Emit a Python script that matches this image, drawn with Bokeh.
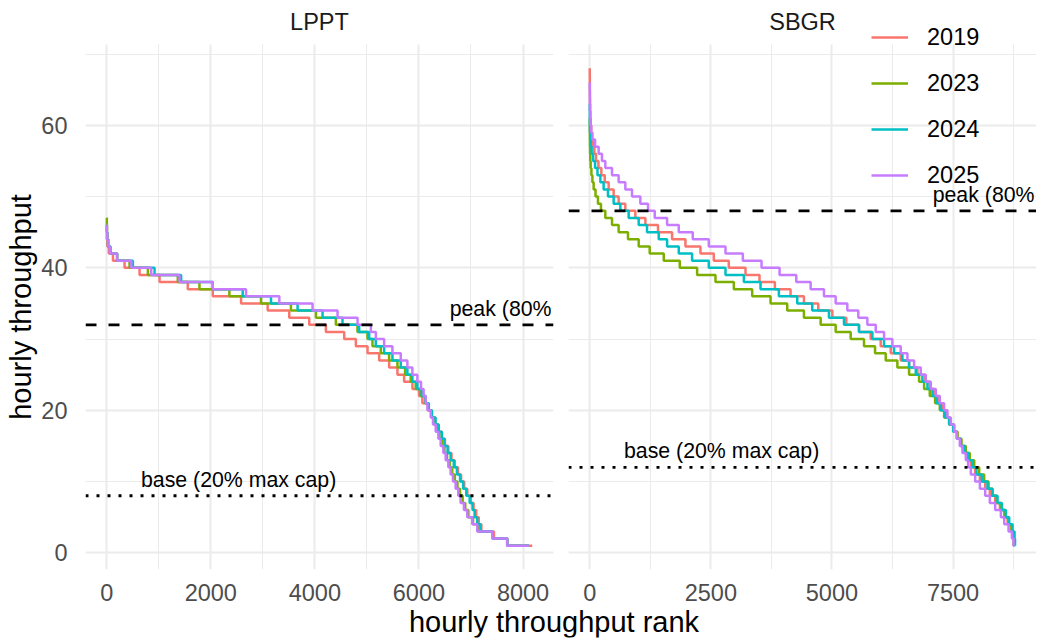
import math
from bokeh.plotting import figure
from bokeh.models import Range1d, FixedTicker, Span, Legend, LegendItem, Label, BoxAnnotation
from bokeh.layouts import row, column
from bokeh.embed import file_html
from bokeh.resources import INLINE
from bokeh.core.properties import value

# ---------------- data (level, last rank at that level) ----------------
YEARS = ["2019", "2023", "2024", "2025"]
COLORS = ["#F8766D", "#7CAE00", "#00BFC4", "#C77CFF"]

LPPT_2019 = [(45, 3), (44, 12), (43, 40), (42, 120), (41, 343), (40, 631), (39, 1015), (38, 1558),
             (37, 2038), (36, 2582), (35, 3093), (34, 3508), (33, 3892), (32, 4212), (31, 4564),
             (30, 4788), (29, 5012), (28, 5236), (27, 5427), (26, 5587), (25, 5715), (24, 5875),
             (23, 6002), (22, 6066), (21, 6170), (20, 6240), (19, 6310), (18, 6380), (17, 6440),
             (16, 6500), (15, 6565), (14, 6625), (13, 6690), (12, 6750), (11, 6810), (10, 6870),
             (9, 6930), (8, 6995), (7, 7050), (6, 7100), (5, 7150), (4, 7200), (3, 7441),
             (2, 7697), (1, 8177)]
LPPT_2023 = [(47, 2), (46, 5), (45, 12), (44, 30), (43, 70), (42, 200), (41, 439), (40, 791),
             (39, 1366), (38, 1782), (37, 2357), (36, 2965), (35, 3540), (34, 4020), (33, 4403),
             (32, 4819), (31, 5011), (30, 5107), (29, 5267), (28, 5427), (27, 5587), (26, 5734),
             (25, 5842), (24, 5938), (23, 6034), (22, 6117), (21, 6185), (20, 6240), (19, 6290),
             (18, 6340), (17, 6390), (16, 6440), (15, 6490), (14, 6540), (13, 6590), (12, 6640),
             (11, 6690), (10, 6740), (9, 6790), (8, 6840), (7, 6890), (6, 6950), (5, 7040),
             (4, 7130), (3, 7409), (2, 7696), (1, 8112)]
LPPT_2024 = [(46, 2), (45, 8), (44, 25), (43, 70), (42, 200), (41, 503), (40, 919), (39, 1430),
             (38, 2038), (37, 2613), (36, 3157), (35, 3668), (34, 4148), (33, 4531), (32, 4851),
             (31, 5043), (30, 5171), (29, 5331), (28, 5491), (27, 5651), (26, 5778), (25, 5874),
             (24, 5970), (23, 6053), (22, 6130), (21, 6190), (20, 6250), (19, 6320), (18, 6380),
             (17, 6440), (16, 6490), (15, 6550), (14, 6610), (13, 6670), (12, 6730), (11, 6790),
             (10, 6850), (9, 6910), (8, 6975), (7, 7030), (6, 7070), (5, 7120), (4, 7180),
             (3, 7409), (2, 7696), (1, 8112)]
LPPT_2025 = [(46, 3), (45, 10), (44, 30), (43, 60), (42, 200), (41, 472), (40, 855), (39, 1398),
             (38, 2038), (37, 2678), (36, 3317), (35, 3956), (34, 4436), (33, 4820), (32, 5076),
             (31, 5172), (30, 5331), (29, 5490), (28, 5651), (27, 5778), (26, 5874), (25, 5970),
             (24, 6040), (23, 6090), (22, 6130), (21, 6165), (20, 6226), (19, 6270), (18, 6322),
             (17, 6373), (16, 6418), (15, 6469), (14, 6514), (13, 6565), (12, 6609), (11, 6654),
             (10, 6705), (9, 6756), (8, 6801), (7, 6865), (6, 6929), (5, 7025), (4, 7121),
             (3, 7409), (2, 7696), (1, 8112)]

SBGR_2019 = [(68, 1), (67, 2), (66, 3), (65, 4), (64, 6), (63, 9), (62, 14), (61, 20), (60, 30),
             (59, 45), (58, 65), (57, 95), (56, 130), (55, 180), (54, 240), (53, 310), (52, 391),
             (51, 494), (50, 597), (49, 735), (48, 942), (47, 1149), (46, 1410), (45, 1700),
             (44, 1976), (43, 2286), (42, 2561), (41, 2871), (40, 3216), (39, 3505), (38, 3822),
             (37, 4146), (36, 4422), (35, 4718), (34, 5008), (33, 5297), (32, 5559), (31, 5800),
             (30, 6007), (29, 6214), (28, 6420), (27, 6593), (26, 6765), (25, 6923), (24, 7020),
             (23, 7110), (22, 7199), (21, 7282), (20, 7364), (19, 7440), (18, 7523), (17, 7592),
             (16, 7661), (15, 7730), (14, 7799), (13, 7868), (12, 7957), (11, 8054), (10, 8164),
             (9, 8260), (8, 8371), (7, 8467), (6, 8557), (5, 8626), (4, 8694), (3, 8743),
             (2, 8755), (1, 8760)]
SBGR_2023 = [(61, 1), (60, 2), (59, 3), (58, 4), (57, 7), (56, 12), (55, 19), (54, 35), (53, 55),
             (52, 81), (51, 120), (50, 170), (49, 232), (48, 322), (47, 460), (46, 597), (45, 790),
             (44, 1011), (43, 1238), (42, 1528), (41, 1858), (40, 2217), (39, 2596), (38, 2975),
             (37, 3354), (36, 3733), (35, 4077), (34, 4422), (33, 4767), (32, 5077), (31, 5387),
             (30, 5662), (29, 5890), (28, 6110), (27, 6351), (26, 6593), (25, 6799), (24, 6903),
             (23, 7020), (22, 7130), (21, 7227), (20, 7316), (19, 7420), (18, 7509), (17, 7592),
             (16, 7675), (15, 7764), (14, 7847), (13, 7937), (12, 8040), (11, 8143), (10, 8233),
             (9, 8315), (8, 8398), (7, 8488), (6, 8570), (5, 8646), (4, 8708), (3, 8743),
             (2, 8755), (1, 8760)]
SBGR_2024 = [(63, 1), (62, 2), (61, 3), (60, 6), (59, 12), (58, 22), (57, 40), (56, 70), (55, 110),
             (54, 160), (53, 220), (52, 287), (51, 377), (50, 494), (49, 632), (48, 804),
             (47, 1011), (46, 1183), (45, 1424), (44, 1597), (43, 1838), (42, 2113), (41, 2458),
             (40, 2803), (39, 3182), (38, 3526), (37, 3905), (36, 4284), (35, 4594), (34, 4939),
             (33, 5249), (32, 5559), (31, 5835), (30, 6076), (29, 6283), (28, 6455), (27, 6593),
             (26, 6731), (25, 6868), (24, 6972), (23, 7075), (22, 7165), (21, 7247), (20, 7337),
             (19, 7420), (18, 7502), (17, 7578), (16, 7661), (15, 7744), (14, 7820), (13, 7902),
             (12, 7985), (11, 8095), (10, 8212), (9, 8315), (8, 8419), (7, 8508), (6, 8591),
             (5, 8660), (4, 8729), (3, 8770), (2, 8780), (1, 8784)]
SBGR_2025 = [(66, 1), (65, 2), (64, 3), (63, 5), (62, 8), (61, 13), (60, 30), (59, 55), (58, 110),
             (57, 184), (56, 253), (55, 322), (54, 460), (53, 597), (52, 735), (51, 873),
             (50, 1045), (49, 1204), (48, 1342), (47, 1597), (46, 1838), (45, 2127), (44, 2458),
             (43, 2803), (42, 3161), (41, 3547), (40, 3919), (39, 4264), (38, 4560), (37, 4836),
             (36, 5077), (35, 5318), (34, 5545), (33, 5731), (32, 5904), (31, 6076), (30, 6248),
             (29, 6420), (28, 6558), (27, 6696), (26, 6834), (25, 6937), (24, 7041), (23, 7144),
             (22, 7227), (21, 7316), (20, 7385), (19, 7454), (18, 7523), (17, 7578), (16, 7640),
             (15, 7695), (14, 7764), (13, 7813), (12, 7868), (11, 7957), (10, 8054), (9, 8164),
             (8, 8260), (7, 8371), (6, 8488), (5, 8557), (4, 8646), (3, 8715), (2, 8750),
             (1, 8760)]

LPPT_PEAK, LPPT_BASE = 32, 8
SBGR_PEAK, SBGR_BASE = 48, 12

LPPT_XTICKS = [0, 2000, 4000, 6000, 8000]
LPPT_XMINOR = [1000, 3000, 5000, 7000]
SBGR_XTICKS = [0, 2500, 5000, 7500]
SBGR_XMINOR = [1250, 3750, 6250, 8750]
YTICKS = [0, 20, 40, 60]
YMINOR = [10, 30, 50, 70]

PEAK_TEXT = "peak (80%"
BASE_TEXT = "base (20% max cap)"

# ---------------- layout constants ----------------
FONT = "Liberation Sans"
GRID = "#EBEBEB"
FRAME_H = 525          # data-area height of each panel
EXTRA_TOP = 34         # extra frame room above the data area (strip label + legend)
TOP_BORDER = 10
BOTTOM_BORDER = 37


def step_xy(pairs):
    levels = [p[0] for p in pairs]
    ends = [p[1] for p in pairs]
    return [1] + ends, levels + [levels[-1]]


all_series = [LPPT_2019, LPPT_2023, LPPT_2024, LPPT_2025,
              SBGR_2019, SBGR_2023, SBGR_2024, SBGR_2025]
ymin = min(p[0] for s in all_series for p in s)
ymax = max(p[0] for s in all_series for p in s)
ypad = 0.05 * (ymax - ymin)
ylo, yhi = ymin - ypad, ymax + ypad
px_per_unit = FRAME_H / (yhi - ylo)
ytop = yhi + EXTRA_TOP / px_per_unit


def make_panel(name, series, peak, base, xticks, xminor, first):
    xmax = max(p[1] for s in series for p in s)
    xpad = 0.05 * (xmax - 1)
    p = figure(frame_width=468, frame_height=FRAME_H + EXTRA_TOP,
               x_range=Range1d(1 - xpad, xmax + xpad),
               y_range=Range1d(ylo, ytop),
               output_backend="svg", toolbar_location=None, title=None,
               min_border_left=40 if first else 8,
               min_border_right=7 if first else 0,
               min_border_top=TOP_BORDER, min_border_bottom=BOTTOM_BORDER)
    p.outline_line_color = None
    p.background_fill_color = "white"
    p.border_fill_color = "white"

    xt = FixedTicker(ticks=xticks, minor_ticks=xminor)
    yt = FixedTicker(ticks=YTICKS, minor_ticks=YMINOR)
    p.xaxis.ticker = xt
    p.xgrid.ticker = xt
    p.yaxis.ticker = yt
    p.ygrid.ticker = yt
    for g in (p.xgrid, p.ygrid):
        g.grid_line_color = GRID
        g.grid_line_width = 2
        g.minor_grid_line_color = GRID
        g.minor_grid_line_width = 1

    for ax in (p.xaxis, p.yaxis):
        ax.axis_line_color = None
        ax.major_tick_line_color = None
        ax.minor_tick_line_color = None
        ax.major_tick_out = 0
        ax.major_tick_in = 0
        ax.major_label_text_font = FONT
        ax.major_label_text_font_size = "23.5px"
        ax.major_label_text_color = "#4D4D4D"
    p.xaxis.major_label_standoff = 10

    if first:
        p.yaxis.major_label_standoff = 14
    else:
        p.yaxis.visible = False

    renderers = []
    for s, c in zip(series, COLORS):
        xs, ys = step_xy(s)
        r = p.step(xs, ys, mode="after", line_color=c, line_width=2.5)
        renderers.append(r)

    p.text(x=[xmax + xpad], y=[peak], text=[PEAK_TEXT], text_align="right",
           text_baseline="middle", x_offset=-2, y_offset=-16, text_font=value(FONT),
           text_font_size=value("21.3px"), text_color="black")
    p.text(x=[0.31 * xmax], y=[base], text=[BASE_TEXT], text_align="center",
           text_baseline="middle", y_offset=-16, text_font=value(FONT),
           text_font_size=value("21.3px"), text_color="black")

    p.add_layout(Span(location=peak, dimension="width", line_color="black",
                      line_width=2.8, line_dash="11 12"))
    p.add_layout(Span(location=base, dimension="width", line_color="black",
                      line_width=2.8, line_dash="3 8"))

    # strip area above the data area: blank, with the facet label
    p.add_layout(BoxAnnotation(bottom=yhi, fill_color="white", fill_alpha=1.0,
                               line_color=None))
    p.add_layout(Label(x=(1 - xpad + xmax + xpad) / 2, y=yhi + 22.5 / px_per_unit,
                       text=name, text_align="center", text_baseline="middle",
                       text_font=FONT, text_font_size="23.5px", text_color="#1A1A1A"))
    return p, renderers


# y-axis title strip
p0 = figure(frame_width=38, frame_height=FRAME_H + EXTRA_TOP,
            x_range=Range1d(0, 38), y_range=Range1d(ylo, ytop),
            output_backend="svg", toolbar_location=None, title=None,
            x_axis_location=None, y_axis_location=None,
            min_border_left=0, min_border_right=0,
            min_border_top=TOP_BORDER, min_border_bottom=BOTTOM_BORDER)
p0.outline_line_color = None
p0.grid.visible = False
p0.text(x=[20], y=[(ylo + yhi) / 2], text=["hourly throughput"], angle=math.pi / 2,
        text_align="center", text_baseline="middle", text_font=value(FONT),
        text_font_size=value("29px"), text_color="black")

p1, _ = make_panel("LPPT", [LPPT_2019, LPPT_2023, LPPT_2024, LPPT_2025],
                   LPPT_PEAK, LPPT_BASE, LPPT_XTICKS, LPPT_XMINOR, True)
p2, rs = make_panel("SBGR", [SBGR_2019, SBGR_2023, SBGR_2024, SBGR_2025],
                    SBGR_PEAK, SBGR_BASE, SBGR_XTICKS, SBGR_XMINOR, False)

legend = Legend(items=[LegendItem(label=y, renderers=[r]) for y, r in zip(YEARS, rs)],
                location=(303, 371), orientation="vertical",
                glyph_width=37, glyph_height=46, label_height=46, label_standoff=19,
                spacing=0, padding=0, margin=0, border_line_color=None,
                background_fill_alpha=0, label_text_font=FONT,
                label_text_font_size="23.5px", label_text_color="black")
p2.add_layout(legend)

p3 = figure(width=1029, height=35, x_range=Range1d(0, 1), y_range=Range1d(0, 1),
            output_backend="svg", toolbar_location=None, title=None,
            x_axis_location=None, y_axis_location=None,
            min_border_left=78, min_border_right=0, min_border_top=0, min_border_bottom=4)
p3.outline_line_color = None
p3.grid.visible = False
p3.add_layout(Label(x=0.5, y=0, text="hourly throughput rank", text_align="center",
                    text_baseline="bottom", text_font=FONT, text_font_size="29px",
                    text_color="black"))

layout = column(row(p0, p1, p2), p3)
open("out.html", "w").write(file_html(layout, INLINE))
